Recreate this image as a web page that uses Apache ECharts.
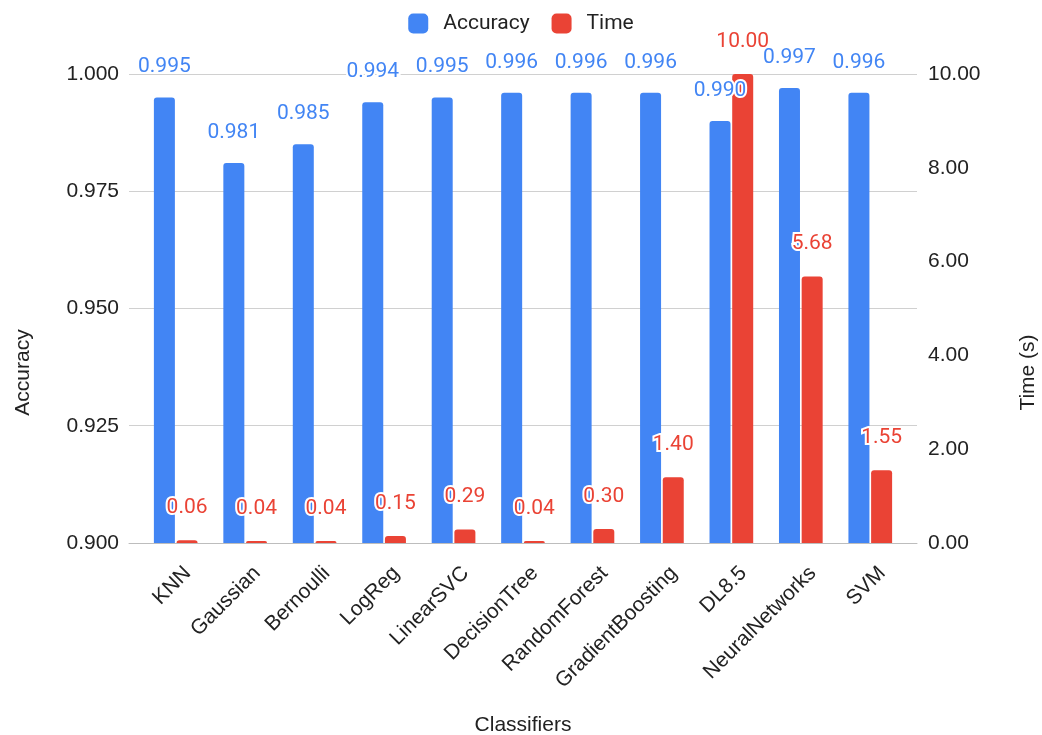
<!DOCTYPE html>
<html>
<head>
<meta charset="utf-8">
<script src="https://cdn.jsdelivr.net/npm/echarts@6/dist/echarts.min.js"></script>
<style>
  html, body { margin: 0; padding: 0; background: #fff; }
  #chart { width: 1042px; height: 735px; }
</style>
</head>
<body>
<div id="chart"></div>
<script>
// Classifier comparison: accuracy (left axis) and run time (right axis)
const classifiers = ['KNN', 'Gaussian', 'Bernoulli', 'LogReg', 'LinearSVC', 'DecisionTree',
  'RandomForest', 'GradientBoosting', 'DL8.5', 'NeuralNetworks', 'SVM'];
const accuracy = [0.995, 0.981, 0.985, 0.994, 0.995, 0.996, 0.996, 0.996, 0.990, 0.997, 0.996];
const timeSec = [0.06, 0.04, 0.04, 0.15, 0.29, 0.04, 0.30, 1.40, 10.00, 5.68, 1.55];

const BLUE = '#4285F4';
const RED = '#EA4335';
const LABEL_FONT = 'Roboto';
const AXIS_FONT = 'Liberation Sans';
const TEXT = '#222222';
const SIZE = 21;

const chart = echarts.init(document.getElementById('chart'), null, { renderer: 'canvas' });

const halo = { textBorderColor: '#ffffff', textBorderWidth: 4 };
const axisText = { fontFamily: AXIS_FONT, fontSize: SIZE, color: TEXT };
const hiddenAxis = {
  axisLine: { show: false }, axisTick: { show: false },
  axisLabel: { show: false }, splitLine: { show: false }
};
const plotBox = { top: 74, bottom: 192, outerBoundsMode: 'none', containLabel: false };

chart.setOption({
  backgroundColor: '#ffffff',
  animation: false,
  textStyle: { fontFamily: LABEL_FONT },
  legend: {
    top: 8,
    left: 'center',
    itemWidth: 20,
    itemHeight: 20,
    itemGap: 22,
    icon: 'roundRect',
    textStyle: { fontFamily: LABEL_FONT, fontSize: SIZE, color: TEXT, padding: [0, 0, 0, 10] },
    data: ['Accuracy', 'Time']
  },
  grid: [
    // bars
    { left: 141, right: 137, ...plotBox },
    // full-width gridlines
    { left: 129, right: 125, ...plotBox },
    // slanted category labels, nudged right of the bar pairs
    { left: 153, right: 125, ...plotBox }
  ],
  xAxis: [
    {
      type: 'category',
      gridIndex: 0,
      data: classifiers,
      ...hiddenAxis,
      name: 'Classifiers',
      nameLocation: 'middle',
      nameGap: 172,
      nameTextStyle: axisText
    },
    {
      type: 'value',
      gridIndex: 1,
      min: 0,
      max: 1,
      ...hiddenAxis,
      axisLine: { show: true, lineStyle: { color: '#bdbdbd', width: 1 } }
    },
    {
      type: 'category',
      gridIndex: 2,
      data: classifiers,
      axisLine: { show: false },
      axisTick: { show: false },
      splitLine: { show: false },
      axisLabel: { rotate: 45, margin: 27, interval: 0, ...axisText }
    }
  ],
  yAxis: [
    {
      type: 'value',
      gridIndex: 0,
      min: 0.9,
      max: 1.0,
      interval: 0.025,
      axisLine: { show: false },
      axisTick: { show: false },
      splitLine: { show: false },
      axisLabel: { margin: 22, ...axisText, formatter: v => v.toFixed(3) },
      name: 'Accuracy',
      nameLocation: 'middle',
      nameGap: 107,
      nameTextStyle: { ...axisText, padding: [0, 128, 0, 0] }
    },
    {
      type: 'value',
      gridIndex: 0,
      position: 'right',
      min: 0,
      max: 10,
      interval: 2,
      axisLine: { show: false },
      axisTick: { show: false },
      splitLine: { show: false },
      axisLabel: { margin: 23, ...axisText, formatter: v => v.toFixed(2) },
      name: 'Time (s)',
      nameLocation: 'middle',
      nameGap: 113,
      nameTextStyle: { ...axisText, padding: [0, 128, 0, 0] }
    },
    {
      type: 'value',
      gridIndex: 1,
      min: 0.9,
      max: 1.0,
      interval: 0.025,
      ...hiddenAxis,
      splitLine: { show: true, lineStyle: { color: '#d0d0d0', width: 1 } }
    },
    {
      type: 'value',
      gridIndex: 2,
      min: 0,
      max: 1,
      ...hiddenAxis
    }
  ],
  series: [
    {
      name: 'Accuracy',
      type: 'bar',
      xAxisIndex: 0,
      yAxisIndex: 0,
      data: accuracy,
      barWidth: 21,
      barGap: '8%',
      itemStyle: { color: BLUE, borderRadius: [3, 3, 0, 0] },
      label: {
        show: true,
        position: 'top',
        distance: 20,
        fontFamily: LABEL_FONT,
        fontSize: SIZE,
        color: BLUE,
        ...halo,
        formatter: p => p.value.toFixed(3)
      },
      z: 3
    },
    {
      name: 'Time',
      type: 'bar',
      xAxisIndex: 0,
      yAxisIndex: 1,
      data: timeSec,
      barWidth: 21,
      itemStyle: { color: RED, borderRadius: [3, 3, 0, 0] },
      label: {
        show: true,
        position: 'top',
        distance: 22,
        fontFamily: LABEL_FONT,
        fontSize: SIZE,
        color: RED,
        ...halo,
        formatter: p => p.value.toFixed(2)
      },
      z: 3
    }
  ]
});
</script>
</body>
</html>
